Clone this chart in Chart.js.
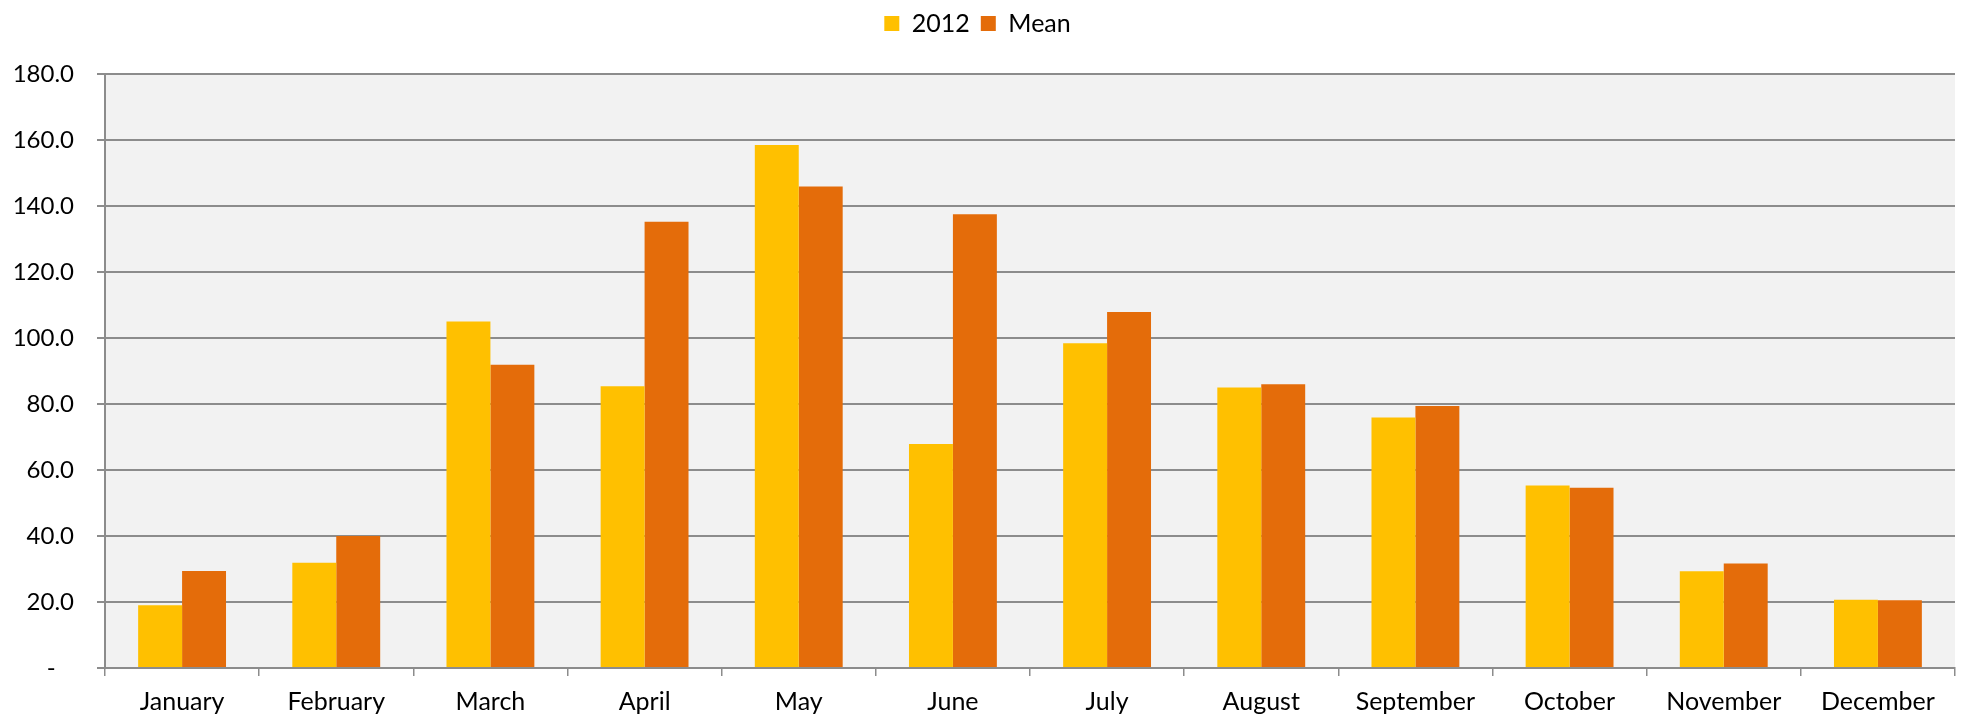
<!DOCTYPE html>
<html>
<head>
<meta charset="utf-8">
<title>2012 vs Mean</title>
<script src="https://cdn.jsdelivr.net/npm/chart.js@4/dist/chart.umd.min.js"></script>
<style>
  html, body { margin: 0; padding: 0; background: #ffffff; }
  #wrap { width: 1968px; height: 720px; position: relative; }
</style>
</head>
<body>
<div id="wrap"><canvas id="chartMonthly"></canvas></div>
<script>
// Mjeseci i vrijednosti očitane sa slike
const MONTHS = [
  'January', 'February', 'March', 'April', 'May', 'June',
  'July', 'August', 'September', 'October', 'November', 'December',
];
const SERIES_LABELS = ['2012', 'Mean'];
const VALUES_2012 = [19.0, 31.9, 105.0, 85.4, 158.5, 67.9, 98.4, 85.0, 75.9, 55.3, 29.3, 20.7];
const VALUES_MEAN = [29.4, 40.0, 91.9, 135.2, 145.9, 137.5, 107.9, 86.0, 79.4, 54.6, 31.7, 20.5];
const Y_MIN = 0;
const Y_MAX = 180;
const Y_STEP = 20;

const COLORS = ['#ffc000', '#e46c0a'];
const GRID = '#8c8c8c';
const FONT = 'Lato, "Open Sans", sans-serif';

// siva pozadina samo u području crteža
const plotBackground = {
  id: 'plotBackground',
  beforeDraw(chart) {
    const { ctx, chartArea: a } = chart;
    ctx.save();
    ctx.fillStyle = '#f2f2f2';
    ctx.fillRect(a.left, a.top, a.right - a.left, a.bottom - a.top);
    ctx.restore();
  },
};

// legenda gore, ali s više mjesta ispod nje
const legendSpacer = {
  id: 'legendSpacer',
  beforeInit(chart) {
    const fit = chart.legend.fit;
    chart.legend.fit = function () {
      fit.call(this);
      this.height = 74;
    };
  },
};

function renderMonthlyChart(canvasEl) {
  return new Chart(canvasEl, {
    type: 'bar',
    data: {
      labels: MONTHS,
      datasets: [
        { label: SERIES_LABELS[0], data: VALUES_2012, backgroundColor: COLORS[0] },
        { label: SERIES_LABELS[1], data: VALUES_MEAN, backgroundColor: COLORS[1] },
      ],
    },
    options: {
      responsive: true,
      maintainAspectRatio: false,
      animation: false,
      layout: { padding: { left: 0, right: 13, top: 0, bottom: 0 } },
      datasets: {
        bar: { categoryPercentage: 0.57, barPercentage: 1.0, borderWidth: 0 },
      },
      plugins: {
        legend: {
          position: 'top',
          labels: {
            boxWidth: 15,
            boxHeight: 15,
            padding: 11,
            color: '#000',
            font: { family: FONT, size: 25 },
          },
        },
        tooltip: { enabled: false },
      },
      scales: {
        x: {
          afterFit(scale) { scale.height = 52; },
          grid: {
            display: true,
            offset: true,
            drawOnChartArea: false,
            drawTicks: true,
            tickLength: 8,
            color: GRID,
            lineWidth: 1.5,
          },
          border: { display: true, color: GRID, width: 2 },
          ticks: {
            color: '#000',
            padding: 11,
            maxRotation: 0,
            font: { family: FONT, size: 25 },
          },
        },
        y: {
          min: Y_MIN,
          max: Y_MAX,
          afterFit(scale) { scale.width = 105; },
          grid: {
            color: GRID,
            lineWidth: 2,
            drawTicks: true,
            tickLength: 8,
          },
          border: { display: true, color: GRID, width: 2 },
          ticks: {
            stepSize: Y_STEP,
            color: '#000',
            padding: 23,
            font: { family: FONT, size: 24 },
            callback: v => (v === 0 ? '-   ' : Number(v).toFixed(1)),
          },
        },
      },
    },
    plugins: [plotBackground, legendSpacer],
  });
}

renderMonthlyChart(document.getElementById('chartMonthly'));
</script>
</body>
</html>
